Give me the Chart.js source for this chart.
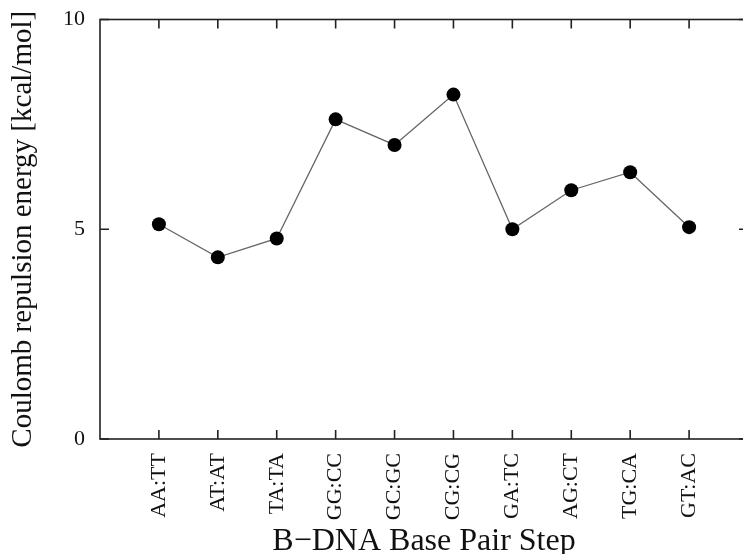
<!DOCTYPE html>
<html>
<head>
<meta charset="utf-8">
<script src="https://cdn.jsdelivr.net/npm/chart.js@4/dist/chart.umd.min.js"></script>
<style>
  html, body { margin: 0; padding: 0; background: #fff; overflow: hidden; }
  #wrap { width: 750px; height: 554px; overflow: hidden; }
  canvas { display: block; width: 750px; height: 554px; }
</style>
</head>
<body>
<div id="wrap"><canvas id="chart" width="750" height="554"></canvas></div>
<script>
// Base pair steps along the B-DNA helix
const steps = ['AA:TT', 'AT:AT', 'TA:TA', 'GG:CC', 'GC:GC', 'CG:CG', 'GA:TC', 'AG:CT', 'TG:CA', 'GT:AC'];
// Coulomb repulsion energy per step, kcal/mol
const energies = [5.12, 4.33, 4.78, 7.62, 7.01, 8.21, 5.00, 5.93, 6.36, 5.05];
// Value-axis ticks
const yTicks = [0, 5, 10];

const SERIF = '"Liberation Serif", "DejaVu Serif", serif';
const FRAME = '#222';

// Closed frame with inward-pointing tick marks on all four sides
const framePlugin = {
  id: 'frame',
  afterDatasetsDraw(chart) {
    const { ctx, chartArea: a, scales: { x, y } } = chart;
    const len = 9;
    ctx.save();
    ctx.strokeStyle = FRAME;
    ctx.lineWidth = 1.6;
    ctx.strokeRect(a.left, a.top, a.right - a.left, a.bottom - a.top);
    ctx.beginPath();
    steps.forEach((_, i) => {
      const px = x.getPixelForValue(i);
      ctx.moveTo(px, a.bottom); ctx.lineTo(px, a.bottom - len);
      ctx.moveTo(px, a.top); ctx.lineTo(px, a.top + len);
    });
    yTicks.forEach(v => {
      const py = y.getPixelForValue(v);
      ctx.moveTo(a.left, py); ctx.lineTo(a.left + len, py);
      ctx.moveTo(a.right, py); ctx.lineTo(a.right - len, py);
    });
    ctx.stroke();
    ctx.restore();
  }
};

new Chart(document.getElementById('chart'), {
  type: 'line',
  data: {
    datasets: [{
      data: energies.map((v, i) => ({ x: i, y: v })),
      borderColor: '#666',
      borderWidth: 1.3,
      pointRadius: 7,
      pointHoverRadius: 7,
      pointBackgroundColor: '#000',
      pointBorderColor: '#000',
      pointBorderWidth: 0,
      tension: 0,
      fill: false
    }]
  },
  options: {
    responsive: false,
    animation: false,
    events: [],
    layout: { autoPadding: false, padding: { top: 19.5, right: 2, left: 0, bottom: 0 } },
    plugins: { legend: { display: false }, tooltip: { enabled: false } },
    scales: {
      x: {
        type: 'linear',
        min: -1,
        max: 10,
        afterBuildTicks: s => { s.ticks = steps.map((_, i) => ({ value: i })); },
        afterFit: s => { s.height = 115; s.paddingLeft = 0; s.paddingRight = 0; },
        grid: { display: false, drawTicks: false },
        border: { display: false },
        ticks: {
          autoSkip: false,
          minRotation: 90,
          maxRotation: 90,
          padding: 14,
          color: '#111',
          font: { family: SERIF, size: 22 },
          callback: v => steps[v]
        },
        title: {
          display: true,
          text: 'B\u2212DNA Base Pair Step',
          color: '#111',
          font: { family: SERIF, size: 32, lineHeight: 0.8 },
          padding: { top: 0, bottom: 0 }
        }
      },
      y: {
        min: 0,
        max: 10,
        afterBuildTicks: s => { s.ticks = yTicks.map(v => ({ value: v })); },
        afterFit: s => { s.width = 100; s.paddingTop = 0; s.paddingBottom = 0; },
        grid: { display: false, drawTicks: false },
        border: { display: false },
        ticks: {
          padding: 15,
          color: '#111',
          font: { family: SERIF, size: 22 }
        },
        title: {
          display: true,
          text: 'Coulomb repulsion energy [kcal/mol]',
          color: '#111',
          font: { family: SERIF, size: 29 },
          padding: { top: 6, bottom: 0 }
        }
      }
    }
  },
  plugins: [framePlugin]
});
</script>
</body>
</html>
